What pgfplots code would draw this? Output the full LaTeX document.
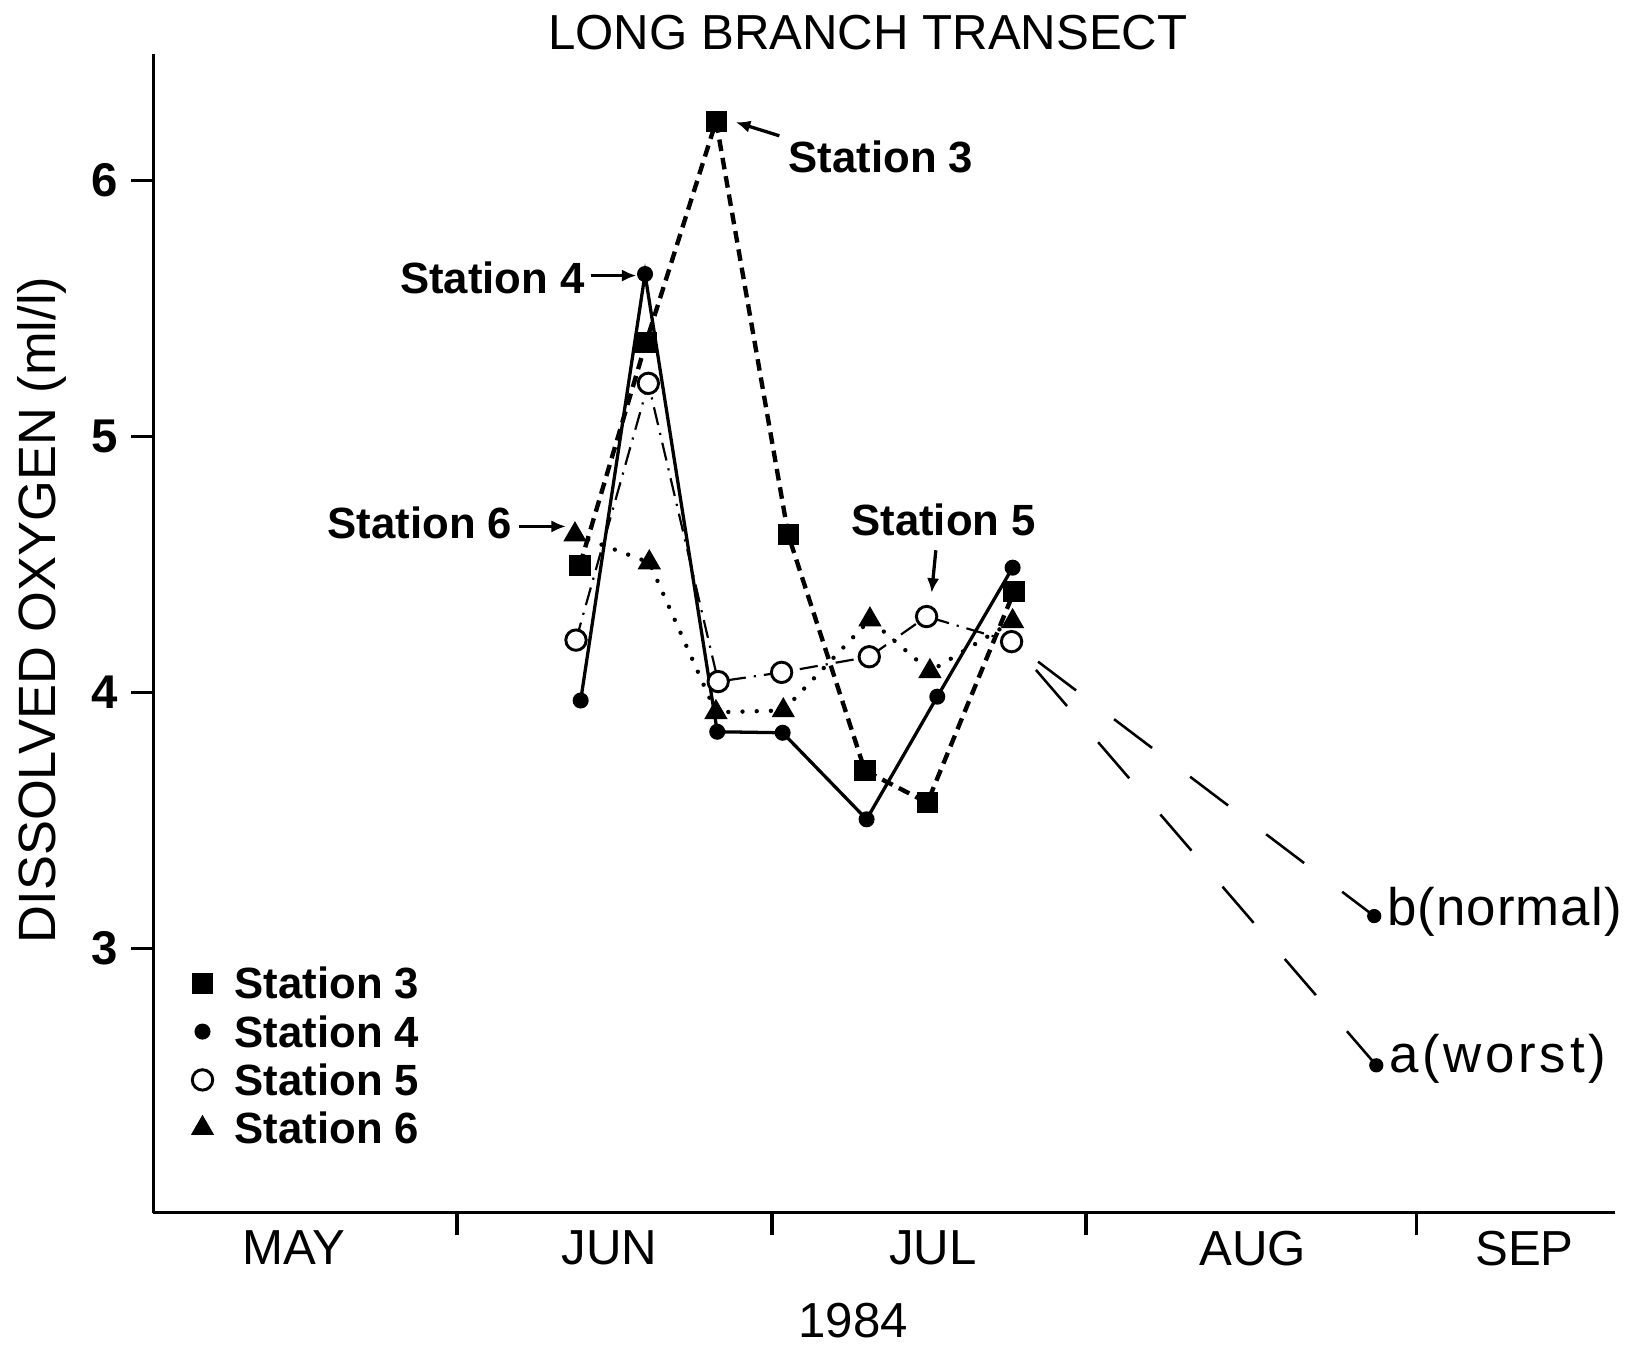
\documentclass[border=0pt]{standalone}
\usepackage{pgfplots}
\pgfplotsset{compat=1.18}
\usepackage{fontspec}
\setmainfont{Liberation Sans}
\usetikzlibrary{arrows.meta}

\begin{document}
\begin{tikzpicture}
\useasboundingbox (-1.48,-1.27) rectangle (14.20,11.70);
\begin{axis}[
  at={(0,0)}, anchor=south west,
  scale only axis, width=14.10cm, height=11.18cm,
  xmin=0, xmax=141, ymin=1.968, ymax=6.494,
  clip=false,
  axis x line*=bottom, axis y line*=left,
  axis line style={line width=1pt,-},
  tick align=outside, major tick length=0.22cm,
  tick style={line width=0.9pt, black},
  xtick={29.3,59.7,90.0,121.9}, xticklabels={},
  extra x ticks={13.6,44.0,75.2,106.1,132.3},
  extra x tick labels={MAY,JUN,JUL,AUG,SEP},
  extra x tick style={major tick length=0pt, tick label style={inner sep=0pt, anchor=north, yshift=-0.17cm, font=\fontsize{13.5}{16}\selectfont}},
  ytick={3,4,5,6},
  /pgf/number format/assume math mode=true,
  yticklabel style={inner sep=0pt, anchor=east, xshift=-0.12cm, font=\bfseries\fontsize{13}{15}\selectfont},
  every axis title shift=0pt,
  title={LONG BRANCH TRANSECT},
  title style={at={(axis description cs:0.489,1)}, anchor=center, yshift=0.21cm, inner sep=0pt, font=\fontsize{13.5}{16}\selectfont},
  xlabel={1984},
  xlabel style={at={(axis description cs:0.479,0)}, anchor=north, inner sep=0pt, yshift=-0.87cm, font=\fontsize{13.5}{16}\selectfont},
  ylabel={DISSOLVED OXYGEN (ml/l)},
  ylabel style={at={(axis description cs:-0.076,0.52)}, anchor=center, inner sep=0pt, font=\fontsize{14.4}{17}\selectfont},
  legend style={at={(axis description cs:0.026,0.212)}, anchor=north west, draw=none, fill=none, inner sep=0pt,
    font=\bfseries\fontsize{12}{14}\selectfont, cells={anchor=west},
    nodes={inner sep=0pt, text height=8.6pt, text depth=0pt}, row sep=0.164cm,
    /tikz/every odd column/.append style={column sep=0.21cm}},
  legend image code/.code={\draw[#1] plot coordinates {(0cm,0cm)};},
]
% projections
\addplot[black, line width=0.7pt, dash pattern=on 0.46cm off 0.46cm, dash phase=0.60cm, mark=*, mark size=1.6pt, mark indices={2}, mark options={solid}, forget plot]
  coordinates {(82.81,4.198) (117.8,3.126)};
\addplot[black, line width=0.7pt, dash pattern=on 0.46cm off 0.46cm, dash phase=0.56cm, mark=*, mark size=1.6pt, mark indices={2}, mark options={solid}, forget plot]
  coordinates {(82.81,4.198) (118.0,2.543)};
% Station 3
\addplot[black, line width=1.2pt, dash pattern=on 3.2pt off 1.9pt, mark=square*, mark size=2.7pt, mark options={solid, fill=black, line width=0.4pt}]
  coordinates {(41.16,4.497) (47.53,5.366) (54.30,6.231) (61.26,4.615) (68.66,3.694) (74.68,3.569) (83.04,4.393)};
\addlegendentry{Station 3}
% Station 4
\addplot[black, line width=0.9pt, mark=*, mark size=2.0pt, mark options={solid, line width=0.4pt}]
  coordinates {(41.23,3.968) (47.44,5.634) (54.41,3.846) (60.72,3.842) (68.82,3.504) (75.64,3.983) (82.91,4.487)};
\addlegendentry{Station 4}
% Station 5
\addplot[black, line width=0.6pt, dash pattern=on 5pt off 2.2pt on 0.6pt off 2.2pt, mark=*, mark size=2.8pt, mark options={solid, fill=white, draw=black, line width=0.8pt}]
  coordinates {(40.78,4.204) (47.76,5.207) (54.50,4.042) (60.62,4.078) (69.08,4.139) (74.61,4.296) (82.81,4.198)};
\addlegendentry{Station 5}
% Station 6
\addplot[black, line width=1.2pt, line cap=round, dash pattern=on 0pt off 3.9pt, mark=triangle*, mark size=3.3pt, mark options={solid, line cap=butt, line width=0.4pt}]
  coordinates {(40.68,4.616) (47.85,4.507) (54.28,3.922) (60.78,3.929) (69.14,4.284) (74.93,4.082) (82.91,4.277)};
\addlegendentry{Station 6}

% annotations
\node[font=\bfseries\fontsize{12}{14}\selectfont, inner sep=0pt] at (axis cs:70.2,6.093) {Station 3};
\draw[-{Latex[length=0.14cm,width=0.12cm]}, line width=0.9pt] (axis cs:60.4,6.174) -- (axis cs:56.2,6.227);
\node[font=\bfseries\fontsize{12}{14}\selectfont, inner sep=0pt, anchor=east] at (axis cs:41.7,5.619) {Station 4};
\draw[-{Latex[length=0.14cm,width=0.12cm]}, line width=0.9pt] (axis cs:42.2,5.628) -- (axis cs:46.6,5.628);
\node[font=\bfseries\fontsize{12}{14}\selectfont, inner sep=0pt, anchor=east] at (axis cs:34.7,4.660) {Station 6};
\draw[-{Latex[length=0.14cm,width=0.12cm]}, line width=0.9pt] (axis cs:35.3,4.648) -- (axis cs:39.8,4.648);
\node[font=\bfseries\fontsize{12}{14}\selectfont, inner sep=0pt] at (axis cs:76.25,4.672) {Station 5};
\draw[-{Latex[length=0.14cm,width=0.12cm]}, line width=0.9pt] (axis cs:75.5,4.555) -- (axis cs:75.1,4.389);
\node[anchor=base west, inner sep=0pt, font=\fontsize{14.5}{17}\selectfont\addfontfeatures{LetterSpace=2}] at (axis cs:119.0,3.089) {b(normal)};
\node[anchor=base west, inner sep=0pt, font=\fontsize{14.5}{17}\selectfont\addfontfeatures{LetterSpace=7}] at (axis cs:119.2,2.514) {a(worst)};
\end{axis}
\end{tikzpicture}
\end{document}
